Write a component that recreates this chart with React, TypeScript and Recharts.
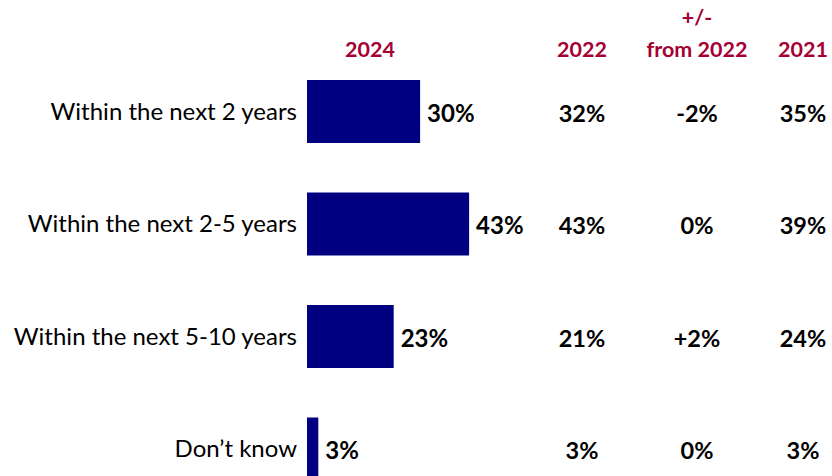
import React from "react";
import { BarChart, Bar, XAxis, YAxis, LabelList, Customized } from "recharts";

const categories = [
  "Within the next 2 years",
  "Within the next 2-5 years",
  "Within the next 5-10 years",
  "Don\u2019t know",
];
const values2024 = [30, 43, 23, 3];
const values2022 = ["32%", "43%", "21%", "3%"];
const changeFrom2022 = ["-2%", "0%", "+2%", "0%"];
const values2021 = ["35%", "39%", "24%", "3%"];
const headers = ["2024", "2022", "+/-", "from 2022", "2021"];

const data = categories.map((c, i) => ({
  name: c,
  v2024: values2024[i],
  v2022: values2022[i],
  change: changeFrom2022[i],
  v2021: values2021[i],
}));

const FONT = "Lato, 'Open Sans', sans-serif";
const RED = "#A50034";

const colLabel = (cx: number) => (props: any) => {
  const { y, height, value } = props;
  return (
    <text
      x={cx}
      y={y + height / 2 + 4}
      textAnchor="middle"
      dominantBaseline="middle"
      fontFamily={FONT}
      fontWeight={700}
      fontSize={23.5}
      fill="#000"
    >
      {value}
    </text>
  );
};

const valueLabel = (props: any) => {
  const { x, y, width, height, value } = props;
  return (
    <text
      x={x + width + 7}
      y={y + height / 2 + 4}
      textAnchor="start"
      dominantBaseline="middle"
      fontFamily={FONT}
      fontWeight={700}
      fontSize={24}
      fill="#000"
    >
      {value}%
    </text>
  );
};

const Headers = () => (
  <g fontFamily={FONT} fontWeight={700} fontSize={21.5} fill={RED} textAnchor="middle">
    <text x={370} y={51} dominantBaseline="middle">{headers[0]}</text>
    <text x={582} y={51} dominantBaseline="middle">{headers[1]}</text>
    <text x={697} y={19} dominantBaseline="middle">{headers[2]}</text>
    <text x={697} y={51} dominantBaseline="middle">{headers[3]}</text>
    <text x={803} y={51} dominantBaseline="middle">{headers[4]}</text>
  </g>
);

export default function App() {
  return (
    <div style={{ position: "absolute", left: 0, top: 0, width: 832, height: 476, overflow: "hidden", background: "#fff" }}>
      <BarChart
        width={832}
        height={506}
        data={data}
        layout="vertical"
        margin={{ top: 55, right: 148, bottom: 1, left: 0 }}
        barSize={63}
      >
        <XAxis type="number" domain={[0, 100]} hide />
        <YAxis
          type="category"
          dataKey="name"
          width={307}
          axisLine={false}
          tickLine={false}
          tickSize={0}
          tickMargin={10}
          tick={{ fontFamily: FONT, fontSize: 24, fill: "#000" }}
        />
        <Bar dataKey="v2024" fill="#000080" isAnimationActive={false}>
          <LabelList dataKey="v2024" content={valueLabel} />
          <LabelList dataKey="v2022" content={colLabel(582)} />
          <LabelList dataKey="change" content={colLabel(697)} />
          <LabelList dataKey="v2021" content={colLabel(803)} />
        </Bar>
        <Customized component={Headers} />
      </BarChart>
    </div>
  );
}
